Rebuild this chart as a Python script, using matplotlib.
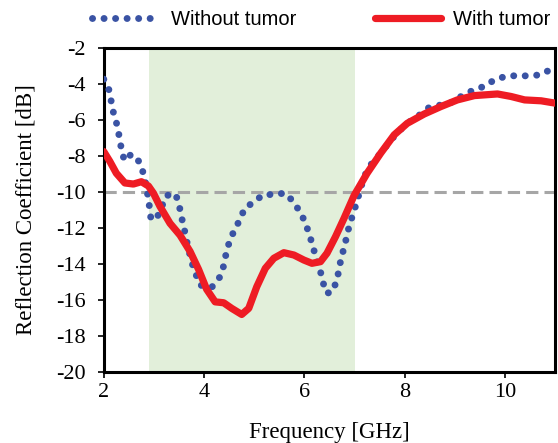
import matplotlib
matplotlib.use("Agg")
import matplotlib.pyplot as plt

# Without tumor (blue dotted)
f_wo = [2.0, 2.11, 2.15, 2.2, 2.27, 2.31, 2.35, 2.41, 2.55, 2.7, 2.79, 2.85, 2.9, 2.94, 3.05,
        3.15, 3.25, 3.43, 3.5, 3.55, 3.6, 3.65, 3.7, 3.76, 3.84, 3.92, 4.15, 4.32, 4.39, 4.44,
        4.5, 4.59, 4.72, 4.81, 4.97, 5.17, 5.39, 5.61, 5.77, 5.91, 6.02, 6.1, 6.17, 6.23, 6.31,
        6.36, 6.43, 6.53, 6.64, 6.69, 6.73, 6.79, 6.85, 6.9, 6.98, 7.07, 7.19, 7.32, 7.49, 7.65,
        7.84, 8.05, 8.27, 8.49, 8.72, 8.92, 9.14, 9.35, 9.57, 9.79, 10.0, 10.23, 10.47, 10.69, 10.9, 11.0]
s_wo = [-3.74, -4.37, -5.0, -5.7, -6.33, -6.96, -7.6, -8.26, -7.9, -8.3, -8.96, -9.7, -10.6, -11.5, -11.5,
        -10.85, -10.2, -10.1, -10.7, -11.4, -12.0, -12.67, -13.3, -13.96, -14.6, -15.17, -15.3, -14.7, -14.1, -13.4,
        -12.8, -12.2, -11.5, -10.9, -10.6, -10.17, -10.13, -10.07, -10.5, -11.1, -11.7, -12.4, -13.0, -13.7, -14.3,
        -14.9, -15.6, -15.6, -15.0, -14.3, -13.7, -13.1, -12.4, -11.8, -11.15, -10.3, -9.15, -8.5, -7.94, -7.39,
        -6.74, -6.19, -5.78, -5.3, -5.17, -5.04, -4.67, -4.37, -4.15, -3.78, -3.59, -3.54, -3.56, -3.5, -3.22, -3.15]

# With tumor (red solid)
f_w = [2.0, 2.12, 2.25, 2.42, 2.59, 2.75, 2.89, 2.99, 3.12, 3.32, 3.52, 3.72, 3.89, 4.05, 4.22,
       4.39, 4.55, 4.75, 4.89, 5.05, 5.22, 5.39, 5.59, 5.79, 5.99, 6.15, 6.32, 6.45, 6.62, 6.79,
       6.99, 7.25, 7.52, 7.79, 8.05, 8.39, 8.72, 9.05, 9.39, 9.85, 10.12, 10.39, 10.72, 11.0]
s_w = [-7.76, -8.3, -8.96, -9.5, -9.56, -9.43, -9.67, -10.07, -10.8, -11.74, -12.4, -13.3, -14.3, -15.4, -16.1,
       -16.15, -16.46, -16.8, -16.46, -15.26, -14.24, -13.68, -13.37, -13.5, -13.78, -13.96, -13.87, -13.4, -12.48, -11.46,
       -10.2, -8.96, -7.85, -6.83, -6.19, -5.67, -5.26, -4.89, -4.65, -4.56, -4.7, -4.89, -4.94, -5.07]

band = [2.9, 7.0]
threshold = -10
xticks = [2, 4, 6, 8, 10]
yticks = [-2, -4, -6, -8, -10, -12, -14, -16, -18, -20]

fig = plt.figure(figsize=(5.58, 4.43), dpi=100)
ax = fig.add_axes([0.186, 0.160, 0.809, 0.732])

ax.axvspan(band[0], band[1], color="#e2efda", zorder=0, lw=0)
ax.axhline(threshold, color="#a6a6a6", lw=2.2, dashes=(4, 2), zorder=1)

ax.plot(f_wo, s_wo, color="#3a53a4", lw=5.0, linestyle=(0, (0.01, 1.65)),
        dash_capstyle="round", label="Without tumor", zorder=3)
ax.plot(f_w, s_w, color="#ee1c24", lw=5.2, solid_capstyle="round",
        solid_joinstyle="round", label="With tumor", zorder=4)

ax.set_xlim(2, 11)
ax.set_ylim(-20, -2)
ax.set_xticks(xticks)
ax.set_yticks(yticks)
serif = "Liberation Serif"
ax.set_xticklabels([str(t) for t in xticks], family=serif, fontsize=16)
ax.set_yticklabels([str(t) for t in yticks], family=serif, fontsize=16)
ax.tick_params(direction="out", length=4, width=1.2)
ax.tick_params(axis="y", pad=9)
ax.tick_params(axis="x", pad=4)
for sp in ax.spines.values():
    sp.set_linewidth(2.2)
ax.set_xlabel("Frequency [GHz]", family=serif, fontsize=16.5, labelpad=14)
ax.set_ylabel("Reflection Coefficient [dB]", family=serif, fontsize=16.5, labelpad=14)

leg = ax.legend(loc="lower left", bbox_to_anchor=(-0.052, 1.02), ncol=2, frameon=False,
                prop={"family": "Liberation Sans", "size": 14.5}, handlelength=3.3,
                columnspacing=3.9, handletextpad=0.6, borderaxespad=0.2)

fig.savefig("out.png", dpi=100)
